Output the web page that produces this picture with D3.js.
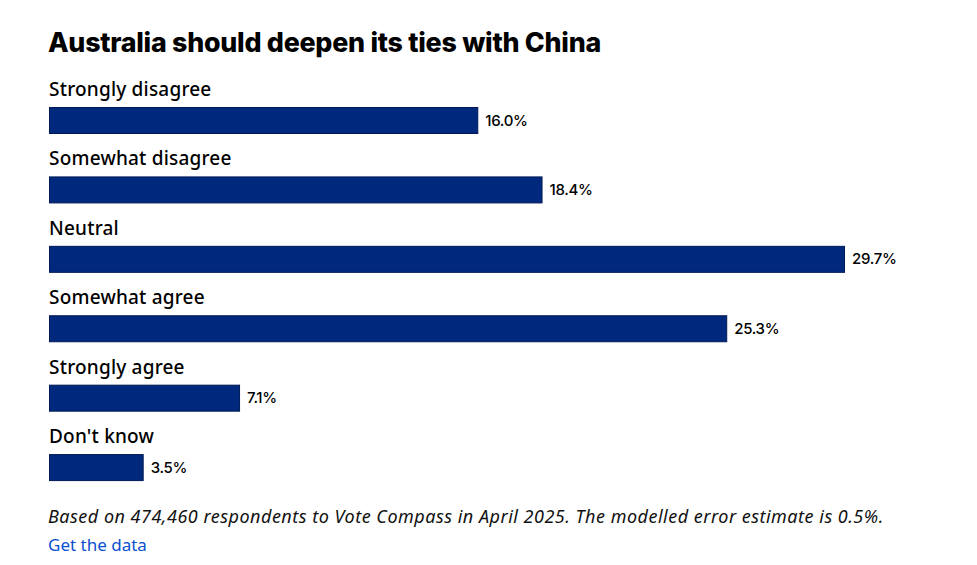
<!DOCTYPE html>
<html>
<head>
<meta charset="utf-8">
<script src="https://cdn.jsdelivr.net/npm/d3@7"></script>
<style>
  body { margin: 0; background: #fff; font-family: "Noto Sans", sans-serif; }
</style>
</head>
<body>
<div id="chart"></div>
<script>
const categories = ["Strongly disagree", "Somewhat disagree", "Neutral", "Somewhat agree", "Strongly agree", "Don't know"];
const values = [16.0, 18.4, 29.7, 25.3, 7.1, 3.5];
const title = "Australia should deepen its ties with China";
const note = "Based on 474,460 respondents to Vote Compass in April 2025. The modelled error estimate is 0.5%.";
const linkText = "Get the data";

const width = 977, height = 565;
const margin = {left: 49, right: 133};

const svg = d3.select("#chart")
  .append("svg")
    .attr("width", width)
    .attr("height", height);

// title
svg.append("text")
  .attr("x", 48)
  .attr("y", 52)
  .text(title)
  .style("font-family", "Inter, 'Noto Sans', sans-serif")
  .style("font-weight", 800)
  .style("font-size", "26.8px")
  .style("letter-spacing", "-0.25px")
  .style("fill", "#000");

const x = d3.scaleLinear()
  .domain([0, d3.max(values)])
  .range([margin.left, width - margin.right]);

// each row: label band + bar band
const y = d3.scaleBand()
  .domain(categories)
  .range([73, 489.5])
  .paddingInner(0)
  .paddingOuter(0);

const rows = svg.selectAll("g.row")
  .data(categories.map((c, i) => ({name: c, value: values[i]})))
  .join("g")
    .attr("class", "row")
    .attr("transform", d => `translate(0,${y(d.name)})`);

rows.append("text")
  .attr("x", 49)
  .attr("y", 23)
  .text(d => d.name)
  .style("font-family", "'Noto Sans', sans-serif")
  .style("font-size", "19px")
  .style("font-weight", 500)
  .style("letter-spacing", "0.2px")
  .style("fill", "#000");

rows.append("rect")
  .attr("x", x(0) + 0.5)
  .attr("y", 34.5)
  .attr("width", d => x(d.value) - x(0))
  .attr("height", 26)
  .attr("fill", "#00287c")
  .attr("stroke", "#001a55")
  .attr("stroke-width", 1);

rows.append("text")
  .attr("x", d => x(d.value) + 8)
  .attr("y", 52.5)
  .text(d => d.value.toFixed(1) + "%")
  .style("font-family", "Inter, sans-serif")
  .style("font-size", "15px")
  .style("font-weight", 500)
  .style("letter-spacing", "-0.3px")
  .style("fill", "#000");

// footnote
svg.append("text")
  .attr("x", 48)
  .attr("y", 523)
  .text(note)
  .style("font-family", "'Noto Sans', sans-serif")
  .style("font-style", "italic")
  .style("font-size", "18px")
  .style("letter-spacing", "0.5px")
  .style("fill", "#111");

svg.append("text")
  .attr("x", 48)
  .attr("y", 551)
  .text(linkText)
  .style("font-family", "'Noto Sans', sans-serif")
  .style("font-size", "17px")
  .style("fill", "#0a50d0");
</script>
</body>
</html>
